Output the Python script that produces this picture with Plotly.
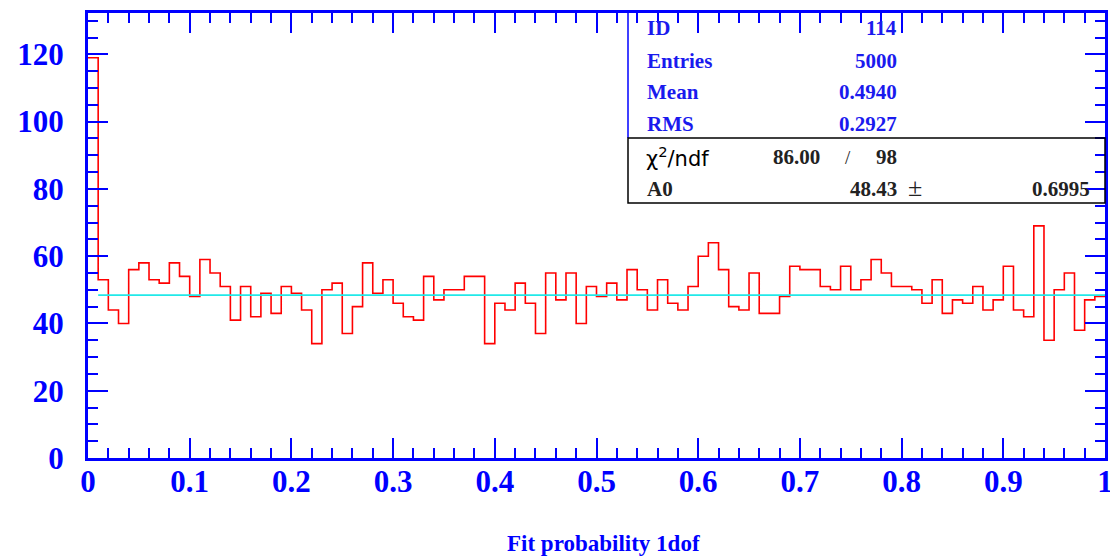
import numpy as np
import plotly.graph_objects as go

# ---------------- data ----------------
x_min, x_max, n_bins = 0.0, 1.0, 100
counts = [119, 53, 44, 40, 56, 58, 53, 52, 58, 54,
          48, 59, 55, 51, 41, 51, 42, 49, 43, 51,
          49, 44, 34, 50, 52, 37, 45, 58, 49, 53,
          46, 42, 41, 54, 47, 50, 50, 54, 54, 34,
          46, 44, 52, 46, 37, 55, 47, 55, 40, 51,
          48, 52, 47, 56, 50, 44, 53, 46, 44, 51,
          60, 64, 56, 45, 44, 55, 43, 43, 48, 57,
          56, 56, 51, 50, 57, 50, 53, 59, 55, 51,
          51, 50, 46, 53, 43, 47, 46, 51, 44, 47,
          57, 44, 42, 69, 35, 50, 55, 38, 47, 48]
fit_A0 = 48.43
fit_range = [0.01, 1.0]
stat_labels = ["ID", "Entries", "Mean", "RMS"]
stat_values = ["114", "5000", "0.4940", "0.2927"]
chi2_value, ndf_value = "86.00", "98"
a0_value, a0_error = "48.43", "0.6995"
x_title = "Fit probability 1dof"
y_max = 132.3

# ---------------- layout constants ----------------
W, H = 1110, 557
ML, MR, MT, MB = 88, 5, 13, 99
BLUE = "#0000ff"
SERIF = "Liberation Serif"
pw, ph = W - ML - MR, H - MT - MB


def px(x):
    return (x - ML) / pw


def py(y):
    return (H - MB - y) / ph


edges = np.linspace(x_min, x_max, n_bins + 1)
xs = list(edges[:-1]) + [x_max]
ys = list(counts) + [counts[-1]]

fig = go.Figure()
fig.add_trace(go.Scatter(x=xs, y=ys, mode="lines", line_shape="hv",
                         line=dict(color="#ff0000", width=1.6),
                         hoverinfo="skip", showlegend=False))
fig.add_trace(go.Scatter(x=fit_range, y=[fit_A0, fit_A0], mode="lines",
                         line=dict(color="#20e8e8", width=1.6),
                         hoverinfo="skip", showlegend=False))

axis_common = dict(
    showline=True, linecolor=BLUE, linewidth=3, mirror="allticks",
    ticks="inside", ticklen=20, tickwidth=2, tickcolor=BLUE,
    showgrid=False, zeroline=False, automargin=False,
    ticklabeloverflow="allow",
    tickfont=dict(family=SERIF, size=31, color=BLUE, weight="bold"),
)
fig.update_xaxes(range=[x_min, x_max], dtick=0.1, tick0=0,
                 minor=dict(dtick=0.02, ticklen=10, tickwidth=2, tickcolor=BLUE, ticks="inside"),
                 ticklabelstandoff=-6,
                 **axis_common)
fig.update_yaxes(range=[0, y_max], dtick=20, tick0=0,
                 minor=dict(dtick=5, ticklen=10, tickwidth=2, tickcolor=BLUE, ticks="inside"),
                 ticklabelstandoff=15,
                 **axis_common)

# ---------------- stats box ----------------
box_l, box_t, box_mid, box_b, box_r = 628, 13, 138, 203, 1105
shapes = [
    dict(type="line", xref="paper", yref="paper", x0=px(box_l), x1=px(box_l),
         y0=py(box_t), y1=py(box_mid), line=dict(color=BLUE, width=1.5)),
    dict(type="rect", xref="paper", yref="paper", x0=px(box_l), x1=px(box_r),
         y0=py(box_b), y1=py(box_mid), line=dict(color="black", width=1.5)),
]
fig.update_layout(shapes=shapes)

ann = []
row_y = [28, 61, 92, 124]
for lab, val, yy in zip(stat_labels, stat_values, row_y):
    ann.append(dict(text="<b>" + lab + "</b>", x=px(645), y=py(yy), xanchor="left", yanchor="middle",
                    font=dict(family=SERIF, size=21, color="#1a1aee")))
    ann.append(dict(text="<b>" + val + "</b>", x=px(899), y=py(yy), xanchor="right", yanchor="middle",
                    font=dict(family=SERIF, size=21, color="#1a1aee")))
ann.append(dict(text="χ<sup>2</sup>/ndf", x=px(644), y=py(157), xanchor="left", yanchor="middle",
                font=dict(family="DejaVu Sans", size=21, color="black")))
ann.append(dict(text="<b>" + chi2_value + "</b>", x=px(822), y=py(157), xanchor="right", yanchor="middle",
                font=dict(family=SERIF, size=21, color="#222")))
ann.append(dict(text="/", x=px(848), y=py(157), xanchor="center", yanchor="middle",
                font=dict(family=SERIF, size=19, color="#222")))
ann.append(dict(text="<b>" + ndf_value + "</b>", x=px(899), y=py(157), xanchor="right", yanchor="middle",
                font=dict(family=SERIF, size=21, color="#222")))
ann.append(dict(text="<b>A0</b>", x=px(645), y=py(189), xanchor="left", yanchor="middle",
                font=dict(family=SERIF, size=21, color="#222")))
ann.append(dict(text="<b>" + a0_value + "</b>", x=px(899), y=py(189), xanchor="right", yanchor="middle",
                font=dict(family=SERIF, size=21, color="#222")))
ann.append(dict(text="±", x=px(915), y=py(188), xanchor="center", yanchor="middle",
                font=dict(family=SERIF, size=26, color="#222")))
ann.append(dict(text="<b>" + a0_error + "</b>", x=px(1092), y=py(189), xanchor="right", yanchor="middle",
                font=dict(family=SERIF, size=21, color="#222")))
ann.append(dict(text="<b>" + x_title + "</b>", x=px(603), y=py(543), xanchor="center", yanchor="middle",
                font=dict(family=SERIF, size=23, color=BLUE)))
for a in ann:
    a.update(xref="paper", yref="paper", showarrow=False)
fig.update_layout(annotations=ann)

fig.update_layout(width=W, height=H, margin=dict(l=ML, r=MR, t=MT, b=MB),
                  paper_bgcolor="white", plot_bgcolor="white")
fig.write_html("out.html")
